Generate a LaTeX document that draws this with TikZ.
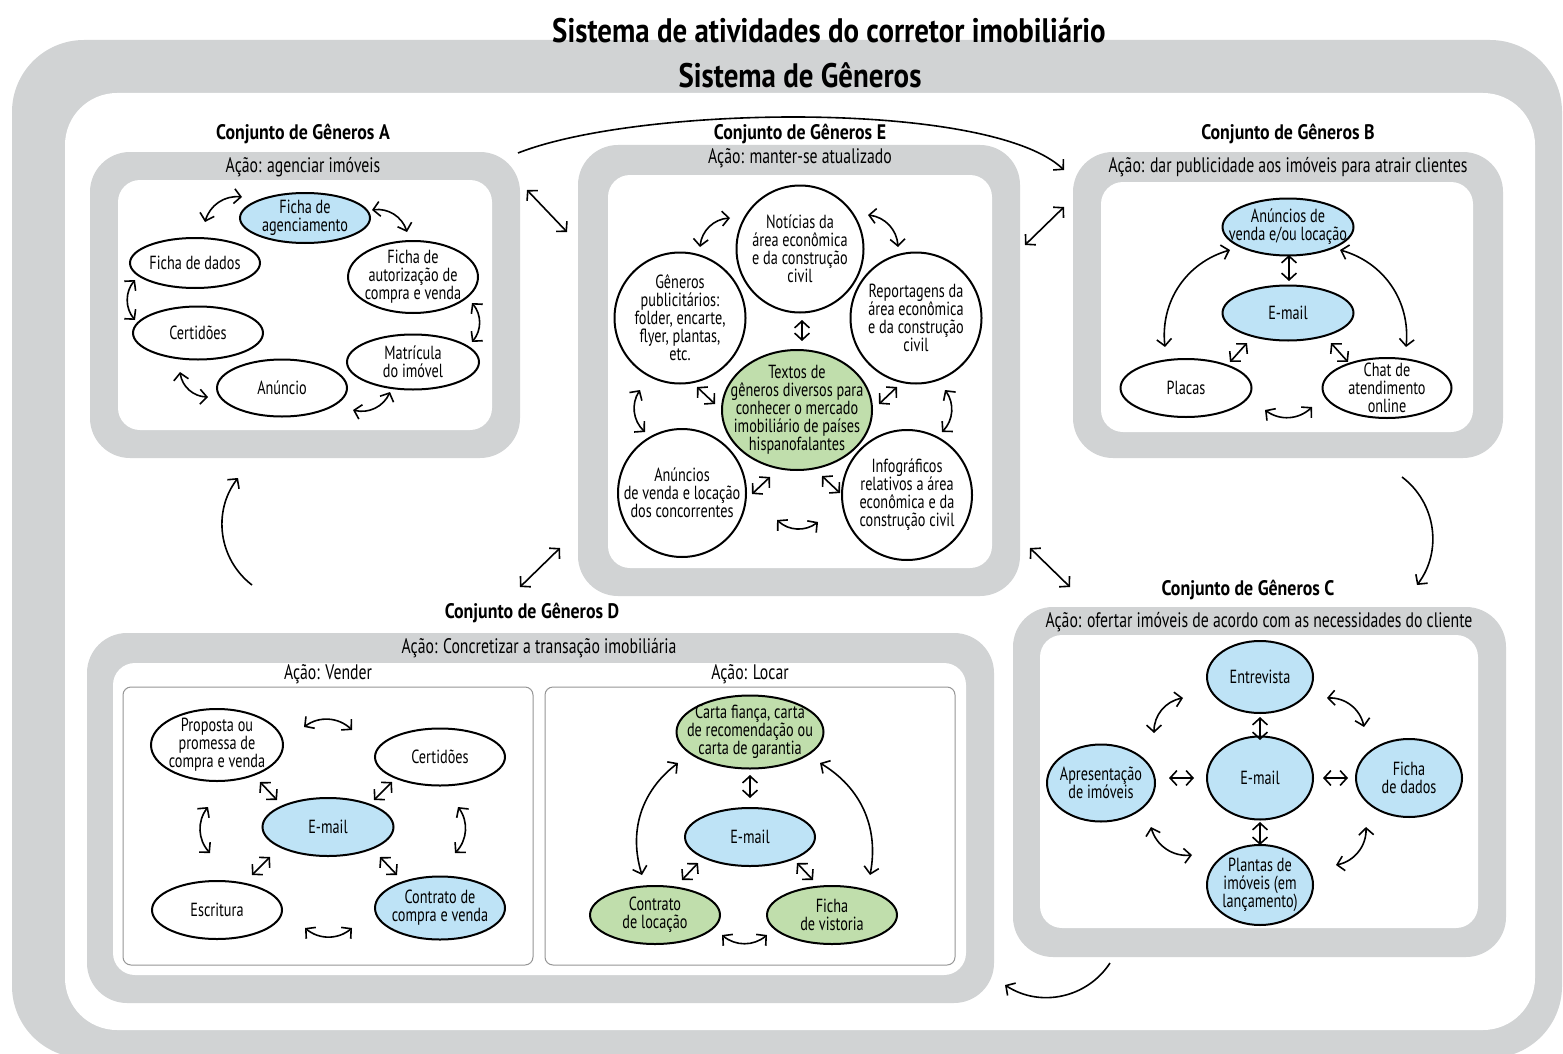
\documentclass[tikz,border=0pt]{standalone}
\usepackage{fontspec}
\setmainfont{PT Sans}[FakeStretch=0.75, BoldFeatures={FakeStretch=0.85}]
\usetikzlibrary{shapes.geometric,arrows.meta,calc}
\definecolor{band}{RGB}{209,211,212}
\definecolor{lblue}{RGB}{190,227,246}
\definecolor{lgreen}{RGB}{192,222,172}
\definecolor{boxline}{RGB}{150,150,150}

% rounded panel given by its corners (in px units)
\newcommand\mkpanel[6]{%
  \node[#6, minimum width={(#4-#2)*0.5pt}, minimum height={(#5-#3)*0.5pt}]
    (#1) at ({(#2+#4)/2},{(#3+#5)/2}) {};}
% ellipse of fixed size with its text on top
\newcommand\mkell[7]{%
  \node[ell, fill=#6, minimum width=#4*0.5pt, minimum height=#5*0.5pt] (#1) at (#2,#3) {};
  \node[txt] (#1-t) at (#1) {#7};}
% circle of fixed size with its text on top
\newcommand\mkcirc[5]{%
  \node[circ, minimum size=#4*0.5pt] (#1) at (#2,#3) {};
  \node[txt] (#1-t) at (#1) {#5};}
% connector between two named end points
\newcommand\link[4]{%
  \coordinate (#1-s) at (#2); \coordinate (#1-e) at (#3);
  \draw[#4] (#1-s) to (#1-e);}

\begin{document}
\begin{tikzpicture}[x=0.5pt,y=-0.5pt,
  bigtitle/.style={font=\bfseries\fontsize{17}{19}\selectfont, inner sep=0},
  settitle/.style={font=\bfseries\fontsize{10.5}{12}\selectfont, inner sep=0},
  action/.style={font=\fontsize{10.5}{12}\selectfont, inner sep=0},
  txt/.style={font=\fontsize{9.5}{9}\selectfont, align=center, inner sep=0},
  greyband/.style={rectangle, fill=band, rounded corners=20pt, inner sep=0},
  whitearea/.style={rectangle, fill=white, rounded corners=11pt, inner sep=0},
  subbox/.style={rectangle, draw=boxline, line width=0.5pt, fill=white, rounded corners=4pt, inner sep=0},
  ell/.style={ellipse, draw, line width=1pt, inner sep=0},
  circ/.style={circle, draw, fill=white, line width=1pt, inner sep=0},
  dbl/.style={line width=0.8pt, arrows={Straight Barb[length=3.4pt,width=7.4pt]-Straight Barb[length=3.4pt,width=7.4pt]}},
  one/.style={line width=0.8pt, arrows={-Straight Barb[length=3.4pt,width=7.4pt]}},
  arcl/.style={dbl, bend left=40},
]
\useasboundingbox (0,0) rectangle (1563,1054);
\fill[white] (0,0) rectangle (1563,1054);

% ---------- outer frames ----------
\mkpanel{outer}{12}{40}{1562}{1058}{rectangle, fill=band, rounded corners=36pt, inner sep=0}
\mkpanel{outerin}{65}{93}{1535}{1030}{rectangle, fill=white, rounded corners=26pt, inner sep=0}
\node[bigtitle] (t1) at (829,30) {Sistema de atividades do corretor imobiliário};
\node[bigtitle] (t2) at (800,75) {Sistema de Gêneros};

% ---------- set A ----------
\node[settitle] (tA) at (303,134) {Conjunto de Gêneros A};
\mkpanel{pA}{90}{152}{520}{458}{greyband}
\mkpanel{pAin}{118}{180}{492}{430}{whitearea}
\node[action] (acA) at (303,167) {Ação: agenciar imóveis};
\mkell{agenc}{305}{218}{130}{50}{lblue}{Ficha de\\agenciamento}
\mkell{dadosA}{195}{263}{130}{50}{white}{Ficha de dados}
\mkell{autor}{413}{277}{130}{72}{white}{Ficha de\\autorização de\\compra e venda}
\mkell{certA}{198}{333}{130}{53}{white}{Certidões}
\mkell{matr}{413}{362}{132}{55}{white}{Matrícula\\do imóvel}
\mkell{anuncio}{282}{388}{130}{57}{white}{Anúncio}
\link{a1}{205,222}{242,197}{arcl}
\link{a2}{372,210}{407,232}{arcl}
\link{a3}{472,303}{472,342}{arcl}
\link{a4}{390,392}{353,410}{arcl}
\link{a5}{208,397}{180,372}{arcl}
\link{a6}{135,320}{135,280}{arcl}

% ---------- set E ----------
\node[settitle] (tE) at (800,134) {Conjunto de Gêneros E};
\mkpanel{pE}{578}{145}{1020}{596}{greyband}
\mkpanel{pEin}{608}{175}{992}{568}{whitearea}
\node[action] (acE) at (800,158) {Ação: manter-se atualizado};
\mkcirc{noticias}{800}{249}{127}{Notícias da\\área econômica\\e da construção\\civil}
\mkcirc{generos}{680}{318}{131}{Gêneros\\publicitários:\\folder, encarte,\\flyer, plantas,\\etc.}
\mkcirc{report}{916}{318}{131}{Reportagens da\\área econômica\\e da construção\\civil}
\mkell{textos}{797}{410}{150}{120}{lgreen}{Textos de\\gêneros diversos para\\conhecer o mercado\\imobiliário de países\\hispanofalantes}
\mkcirc{anuncE}{682}{493}{128}{Anúncios\\de venda e locação\\dos concorrentes}
\mkcirc{infog}{907}{495}{130}{Infográficos\\relativos a área\\econômica e da\\construção civil}
\link{e1}{802,320}{802,341}{dbl}
\link{e2}{697,387}{715,404}{dbl}
\link{e3}{897,387}{879,404}{dbl}
\link{e4}{752,494}{770,477}{dbl}
\link{e5}{822,476}{840,493}{dbl}
\link{e6}{700,247}{730,218}{arcl}
\link{e7}{868,215}{898,247}{arcl}
\link{e8}{945,390}{942,432}{arcl}
\link{e9}{818,522}{777,520}{arcl}
\link{e10}{645,432}{640,390}{arcl}

% ---------- set B ----------
\node[settitle] (tB) at (1288,134) {Conjunto de Gêneros B};
\mkpanel{pB}{1073}{152}{1503}{458}{greyband}
\mkpanel{pBin}{1101}{182}{1473}{432}{whitearea}
\node[action] (acB) at (1288,167) {Ação: dar publicidade aos imóveis para atrair clientes};
\mkell{anunB}{1288}{227}{131}{57}{lblue}{Anúncios de\\venda e/ou locação}
\mkell{emailB}{1288}{313}{131}{55}{lblue}{E-mail}
\mkell{placas}{1186}{388}{131}{58}{white}{Placas}
\mkell{chat}{1387}{388}{129}{60}{white}{Chat de\\atendimento\\online}
\link{b1}{1289,255}{1289,281}{dbl}
\link{b2}{1247,343}{1230,362}{dbl}
\link{b3}{1331,343}{1348,362}{dbl}
\link{b4}{1165,347}{1230,250}{dbl, bend left=40}
\link{b5}{1340,250}{1406,347}{dbl, bend left=40}
\link{b6}{1312,407}{1265,410}{arcl}

% ---------- set C ----------
\node[settitle] (tC) at (1248,590) {Conjunto de Gêneros C};
\mkpanel{pC}{1013}{607}{1506}{957}{greyband}
\mkpanel{pCin}{1040}{635}{1478}{928}{whitearea}
\node[action] (acC) at (1259,622) {Ação: ofertar imóveis de acordo com as necessidades do cliente};
\mkell{entrev}{1260}{677}{106}{72}{lblue}{Entrevista}
\mkell{emailC}{1260}{778}{106}{83}{lblue}{E-mail}
\mkell{apres}{1101}{783}{108}{77}{lblue}{Apresentação\\de imóveis}
\mkell{fichaC}{1409}{778}{106}{78}{lblue}{Ficha\\de dados}
\mkell{plantas}{1260}{885}{106}{80}{lblue}{Plantas de\\imóveis (em\\lançamento)}
\link{c1}{1260,717}{1260,740}{dbl}
\link{c2}{1260,822}{1260,845}{dbl}
\link{c3}{1169,778}{1194,778}{dbl}
\link{c4}{1323,778}{1348,778}{dbl}
\link{c5}{1154,733}{1183,698}{arcl}
\link{c6}{1327,698}{1364,727}{arcl}
\link{c7}{1366,827}{1336,865}{arcl}
\link{c8}{1192,855}{1151,827}{arcl}

% ---------- set D ----------
\node[settitle] (tD) at (532,613) {Conjunto de Gêneros D};
\mkpanel{pD}{87}{633}{994}{1003}{greyband}
\mkpanel{pDin}{113}{663}{966}{975}{whitearea}
\node[action] (acD) at (539,648) {Ação: Concretizar a transação imobiliária};
\node[action] (acV) at (328,674) {Ação: Vender};
\node[action] (acL) at (750,674) {Ação: Locar};
\mkpanel{vend}{123}{687}{533}{965}{subbox}
\mkpanel{loca}{545}{687}{955}{965}{subbox}
% selling
\mkell{proposta}{217}{745}{132}{72}{white}{Proposta ou\\promessa de\\compra e venda}
\mkell{certD}{440}{757}{130}{57}{white}{Certidões}
\mkell{emailV}{328}{827}{131}{58}{lblue}{E-mail}
\mkell{escrit}{217}{910}{130}{58}{white}{Escritura}
\mkell{contratoV}{440}{908}{130}{63}{lblue}{Contrato de\\compra e venda}
\link{v1}{260,782}{277,800}{dbl}
\link{v2}{392,782}{374,800}{dbl}
\link{v3}{252,875}{270,857}{dbl}
\link{v4}{380,857}{397,875}{dbl}
\link{v5}{304,727}{352,730}{arcl}
\link{v6}{458,807}{455,853}{arcl}
\link{v7}{352,928}{305,928}{arcl}
\link{v8}{210,853}{208,807}{arcl}
% renting
\mkell{carta}{750}{732}{147}{73}{lgreen}{Carta fiança, carta\\de recomendação ou\\carta de garantia}
\mkell{emailL}{750}{837}{130}{58}{lblue}{E-mail}
\mkell{contratoL}{655}{915}{130}{58}{lgreen}{Contrato\\de locação}
\mkell{vistoria}{832}{915}{130}{58}{lgreen}{Ficha\\de vistoria}
\link{l1}{750,775}{750,798}{dbl}
\link{l2}{698,863}{682,880}{dbl}
\link{l3}{797,863}{813,880}{dbl}
\link{l4}{642,875}{678,763}{dbl, bend left=35}
\link{l5}{820,763}{870,875}{dbl, bend left=35}
\link{l6}{767,935}{722,935}{arcl}

% ---------- links between the sets ----------
\coordinate (x1-s) at (518,153);
\coordinate (x1-e) at (1064,170);
\draw[one] (x1-s) .. controls (640,105) and (990,100) .. (x1-e);
\link{x2}{1402,477}{1417,585}{one, bend left=45}
\link{x3}{1110,963}{1005,985}{one, bend left=45}
\link{x4}{252,585}{238,478}{one, bend left=45}
\link{x5}{527,190}{567,232}{dbl}
\link{x6}{1025,245}{1064,207}{dbl}
\link{x7}{520,587}{560,548}{dbl}
\link{x8}{1030,548}{1070,587}{dbl}
\end{tikzpicture}
\end{document}
